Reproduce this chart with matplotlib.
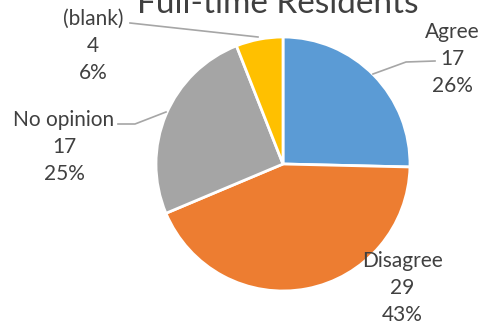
import matplotlib
matplotlib.use("Agg")
import matplotlib.pyplot as plt

title = "Full-time Residents"
categories = ["Agree", "Disagree", "No opinion", "(blank)"]
values = [17, 29, 17, 4]
pct_labels = ["26%", "43%", "25%", "6%"]
colors = ["#5B9BD5", "#ED7D31", "#A5A5A5", "#FFC000"]

W, H = 484, 327
fig = plt.figure(figsize=(W / 100, H / 100), dpi=100)
ax = fig.add_axes([0, 0, 1, 1])

# pie drawn in pixel-like coords (y up)
cx, cy, r = 283, 163, 127
ax.pie(values, colors=colors, startangle=90, counterclock=False,
       center=(cx, cy), radius=r, frame=True,
       wedgeprops=dict(edgecolor="white", linewidth=2))
ax.set_xlim(0, W)
ax.set_ylim(0, H)
ax.set_aspect("equal")
ax.axis("off")

font = "Lato"
tc = "#404040"
pos = {"Agree": (452, 268), "Disagree": (402, 39), "No opinion": (64, 180), "(blank)": (93, 281)}
for cat, v, p in zip(categories, values, pct_labels):
    x, y = pos[cat]
    ax.text(x, y, f"{cat}\n{v}\n{p}", ha="center", va="center", fontsize=15,
            color=tc, family=font, linespacing=1.45)

lc = "#A6A6A6"
ax.plot([435, 406, 373], [266, 265, 253], color=lc, lw=1.2)
ax.plot([130, 258], [304, 290], color=lc, lw=1.2)
ax.plot([118, 135, 166], [203, 203, 215], color=lc, lw=1.2)

ax.text(278, 314, title, ha="center", va="baseline", fontsize=24, color=tc, family=font)

fig.savefig("out.png", dpi=100)
